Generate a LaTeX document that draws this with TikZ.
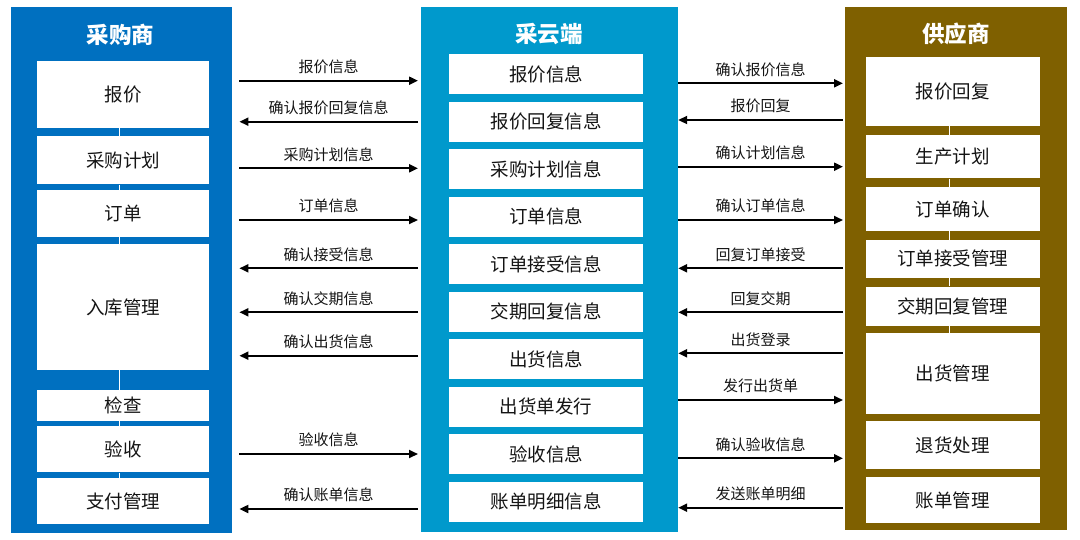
\documentclass[tikz,border=0pt]{standalone}
\usepackage{fontspec}
\setmainfont{Noto Sans CJK SC}
\usetikzlibrary{arrows.meta,calc}
\definecolor{cL}{RGB}{0,112,192}
\definecolor{cM}{RGB}{0,153,204}
\definecolor{cR}{RGB}{127,96,0}
\definecolor{txt}{RGB}{20,20,20}
\begin{document}
\begin{tikzpicture}[x=1pt,y=-1pt,
  colbox/.style={draw=none,anchor=north west,inner sep=0pt},
  wbox/.style={fill=white,draw=none,inner sep=0pt,text=txt,font=\fontsize{18.5}{20}\selectfont},
  ttl/.style={text=white,font=\fontsize{22.5}{24}\selectfont\bfseries,inner sep=0pt},
  arr/.style={line width=2pt,draw=black,-{Triangle[length=9pt,width=8pt]}},
  lab/.style={midway,yshift=14pt,inner sep=0pt,text=txt,font=\fontsize{15}{16}\selectfont},
  conn/.style={draw=white,line width=1pt}]
\useasboundingbox (0,0) rectangle (1080,539);
\fill[white] (0,0) rectangle (1080,539);
% columns
\node[colbox,fill=cL,minimum width=221.5pt,minimum height=525.5pt] (leftcol) at (10.5,7) {};
\node[colbox,fill=cM,minimum width=256.3pt,minimum height=525pt] (midcol) at (421,7) {};
\node[colbox,fill=cR,minimum width=222pt,minimum height=523pt] (rightcol) at (845,7) {};
\node[ttl] (lt) at (120.5,35) {采购商};
\node[ttl] (mt) at (549,34) {采云端};
\node[ttl] (rt) at (956,34) {供应商};
% left boxes
\node[wbox,minimum width=172pt,minimum height=66.5pt] (l1) at (123,94.25) {报价};
\node[wbox,minimum width=172pt,minimum height=48.3pt] (l2) at (123,160.2) {采购计划};
\node[wbox,minimum width=172pt,minimum height=46.7pt] (l3) at (123,213.3) {订单};
\node[wbox,minimum width=172pt,minimum height=126pt] (l4) at (123,307) {入库管理};
\node[wbox,minimum width=172pt,minimum height=31pt] (l5) at (123,405.5) {检查};
\node[wbox,minimum width=172pt,minimum height=46.6pt] (l6) at (123,449) {验收};
\node[wbox,minimum width=172pt,minimum height=46.6pt] (l7) at (123,501) {支付管理};
% middle boxes
\node[wbox,minimum width=194pt,minimum height=40pt] (m1) at (546,74) {报价信息};
\node[wbox,minimum width=194pt,minimum height=40pt] (m2) at (546,121.5) {报价回复信息};
\node[wbox,minimum width=194pt,minimum height=40pt] (m3) at (546,169) {采购计划信息};
\node[wbox,minimum width=194pt,minimum height=40pt] (m4) at (546,216.5) {订单信息};
\node[wbox,minimum width=194pt,minimum height=40pt] (m5) at (546,264) {订单接受信息};
\node[wbox,minimum width=194pt,minimum height=40pt] (m6) at (546,311.5) {交期回复信息};
\node[wbox,minimum width=194pt,minimum height=40pt] (m7) at (546,359) {出货信息};
\node[wbox,minimum width=194pt,minimum height=40pt] (m8) at (546,406.5) {出货单发行};
\node[wbox,minimum width=194pt,minimum height=40pt] (m9) at (546,454) {验收信息};
\node[wbox,minimum width=194pt,minimum height=40pt] (m10) at (546,501.5) {账单明细信息};
% right boxes
\node[wbox,minimum width=173.5pt,minimum height=69.3pt] (r1) at (952.75,91.3) {报价回复};
\node[wbox,minimum width=173.5pt,minimum height=43.3pt] (r2) at (952.75,156.7) {生产计划};
\node[wbox,minimum width=173.5pt,minimum height=43.7pt] (r3) at (952.75,209.2) {订单确认};
\node[wbox,minimum width=173.5pt,minimum height=37.7pt] (r4) at (952.75,258.8) {订单接受管理};
\node[wbox,minimum width=173.5pt,minimum height=39.3pt] (r5) at (952.75,306.3) {交期回复管理};
\node[wbox,minimum width=173.5pt,minimum height=80.7pt] (r6) at (952.75,373.7) {出货管理};
\node[wbox,minimum width=173.5pt,minimum height=48.3pt] (r7) at (952.75,445.2) {退货处理};
\node[wbox,minimum width=173.5pt,minimum height=46.6pt] (r8) at (952.75,500) {账单管理};
% thin connectors
\coordinate (lc) at (119,0);
\coordinate (rc) at (949.3,0);
\foreach \a/\b in {l1/l2,l2/l3,l3/l4,l4/l5,l5/l6,l6/l7}
  \draw[conn] (\a.south -| lc) -- (\b.north -| lc);
\foreach \a/\b in {r1/r2,r2/r3,r3/r4,r4/r5,r5/r6}
  \draw[conn] (\a.south -| rc) -- (\b.north -| rc);
% arrow end coordinates
\coordinate (LA) at ($(leftcol.north east)+(7,0)$);
\coordinate (MA) at ($(midcol.north west)+(-3,0)$);
\coordinate (MB) at ($(midcol.north east)+(0.5,0)$);
\coordinate (RB) at ($(rightcol.north west)+(-2,0)$);
% left arrows
\draw[arr] (LA |- 0,80.7) -- node[lab]{报价信息} (MA |- 0,80.7);
\draw[arr] (MA |- 0,121.7) -- node[lab]{确认报价回复信息} (LA |- 0,121.7);
\draw[arr] (LA |- 0,168.3) -- node[lab]{采购计划信息} (MA |- 0,168.3);
\draw[arr] (LA |- 0,220) -- node[lab]{订单信息} (MA |- 0,220);
\draw[arr] (MA |- 0,268.3) -- node[lab]{确认接受信息} (LA |- 0,268.3);
\draw[arr] (MA |- 0,312.3) -- node[lab]{确认交期信息} (LA |- 0,312.3);
\draw[arr] (MA |- 0,355.7) -- node[lab]{确认出货信息} (LA |- 0,355.7);
\draw[arr] (LA |- 0,454) -- node[lab]{验收信息} (MA |- 0,454);
\draw[arr] (MA |- 0,509) -- node[lab]{确认账单信息} (LA |- 0,509);
% right arrows
\draw[arr] (MB |- 0,83.3) -- node[lab]{确认报价信息} (RB |- 0,83.3);
\draw[arr] (RB |- 0,120) -- node[lab]{报价回复} (MB |- 0,120);
\draw[arr] (MB |- 0,166.7) -- node[lab]{确认计划信息} (RB |- 0,166.7);
\draw[arr] (MB |- 0,220) -- node[lab]{确认订单信息} (RB |- 0,220);
\draw[arr] (RB |- 0,268.3) -- node[lab]{回复订单接受} (MB |- 0,268.3);
\draw[arr] (RB |- 0,312.3) -- node[lab]{回复交期} (MB |- 0,312.3);
\draw[arr] (RB |- 0,353.3) -- node[lab]{出货登录} (MB |- 0,353.3);
\draw[arr] (MB |- 0,400) -- node[lab]{发行出货单} (RB |- 0,400);
\draw[arr] (MB |- 0,458.3) -- node[lab]{确认验收信息} (RB |- 0,458.3);
\draw[arr] (RB |- 0,507.7) -- node[lab]{发送账单明细} (MB |- 0,507.7);
\end{tikzpicture}
\end{document}
